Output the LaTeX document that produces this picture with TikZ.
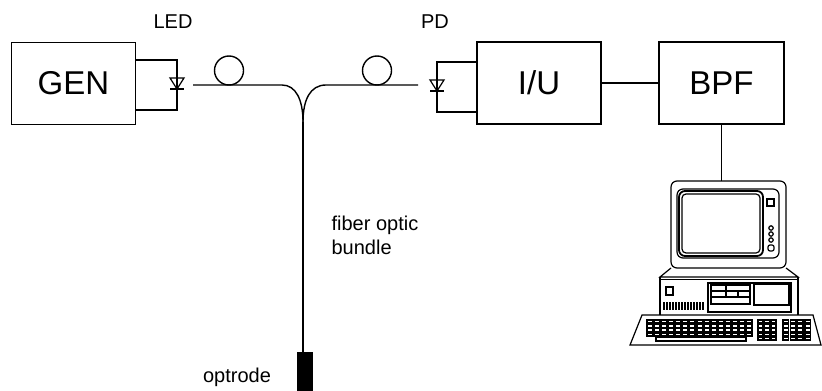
\documentclass[tikz,border=0pt]{standalone}
\usepackage{fontspec}
\setmainfont{Liberation Sans}

\begin{document}
\begin{tikzpicture}[x=0.5pt,y=-0.5pt,line width=0.6pt,
unit/.style={%
draw,
minimum height=41pt,
minimum width=62pt,
inner sep=0pt,
font=\fontsize{16.5}{19}\selectfont,
},
tag/.style={%
font=\fontsize{10}{12}\selectfont,
align=left,
inner sep=0pt,
},
fiber/.style={%
line width=0.7pt,
},
key/.style={%
line width=0.8pt,
},
]
\useasboundingbox (0,0) rectangle (822,390);
%% Blocks
\node[unit]at(73.5,83.5)(gen){GEN};
\node[unit]at(539,83)(iu){I/U};
\node[unit,minimum width=62.5pt]at(721.5,83)(bpf){BPF};
\node[tag]at(173,22)(led){LED};
\node[tag]at(435,22)(pd){PD};
%% LED
\coordinate (ledtop) at (177,60);
\coordinate (ledbot) at (177,110);
\draw (gen.east |- ledtop)--(ledtop)--(ledbot)--(gen.east |- ledbot);
\draw (170,78)--(184,78)--(177,89)--cycle;
\draw (170,89)--(184,89);
%% PD
\coordinate (pdtop) at (437,62);
\coordinate (pdbot) at (437,112);
\draw (iu.west |- pdtop)--(pdtop)--(pdbot)--(iu.west |- pdbot);
\draw (430,80)--(444,80)--(437,91)--cycle;
\draw (430,91)--(444,91);
%% Fiber optic bundle
\coordinate (fin) at (193,85);
\coordinate (fout) at (418,85);
\coordinate (split) at (303,122);
\node[draw,fill=black,minimum width=7pt,minimum height=18.5pt,inner sep=0pt]
at(305,371.5)(optrode){};
\draw[fiber] (fin)--(282,85) .. controls (296,85) and (303,100) .. (split);
\draw[fiber] (split) .. controls (303,100) and (310,85) .. (326,85)--(fout);
\draw[fiber] (split)--(split |- optrode.north);
\draw[fiber] (229,70.5) circle (14.5);
\draw[fiber] (377,70.5) circle (14.5);
\node[tag,anchor=west]at(331,235)(bundle){fiber optic\\bundle};
\node[tag]at(237,377)(probe){optrode};
%% Signal chain
\draw (iu.east)--(bpf.west);
\coordinate (pc) at (721.5,181);
\draw (bpf.south)--(pc);
%% Computer: monitor
\draw[rounded corners=3] (671,181) rectangle (786,268);
\draw[rounded corners=3] (677,189) rectangle (779,258);
\draw[rounded corners=3,line width=0.9pt] (679,191) rectangle (763,256);
\draw[rounded corners=2] (682,194) rectangle (760,253);
\draw (767,199) rectangle (774,206);
\foreach \y in {228,234,240}{%
\draw (771,\y) circle (2.2);
}
\draw[rounded corners=1] (768,245) rectangle (774,251);
%% Computer: system unit
\draw (671,268)--(660,277)--(798,277)--(786,268);
\draw (660,279.5)--(798,279.5);
\draw (660,277)--(660,315);
\draw (798,277)--(798,315);
\draw (666,287) rectangle (673,295);
\foreach \x in {664,667,...,703}{%
\draw[line width=0.9pt] (\x,302)--(\x,310);
}
\draw (708,283) rectangle (791,312);
\draw (711,285) rectangle (750,304);
\draw (711,291)--(750,291);
\draw (711,297)--(750,297);
\draw (726,285)--(726,297);
\draw (738,291)--(738,297);
\draw (754,284) rectangle (789,305);
%% Computer: keyboard
\draw[fill=white] (630,345)--(642,315)--(813,315)--(821,345)--cycle;
\foreach \r in {0,...,3}{%
\foreach \k in {0,...,14}{%
\draw[key] ({647+\k*7.1},{320+\r*4.3}) rectangle +(5.6,3);
}
}
\draw[key] (656,337.6) rectangle (746,341);
\foreach \r in {0,...,4}{%
\foreach \k in {0,...,2}{%
\draw[key] ({758+\k*6.6},{320+\r*4.3}) rectangle +(5,3);
}
}
\foreach \r in {0,...,4}{%
\foreach \k in {0,...,3}{%
\draw[key] ({783+\k*7.3},{320+\r*4.3}) rectangle +(5.6,3);
}
}
\end{tikzpicture}
\end{document}
